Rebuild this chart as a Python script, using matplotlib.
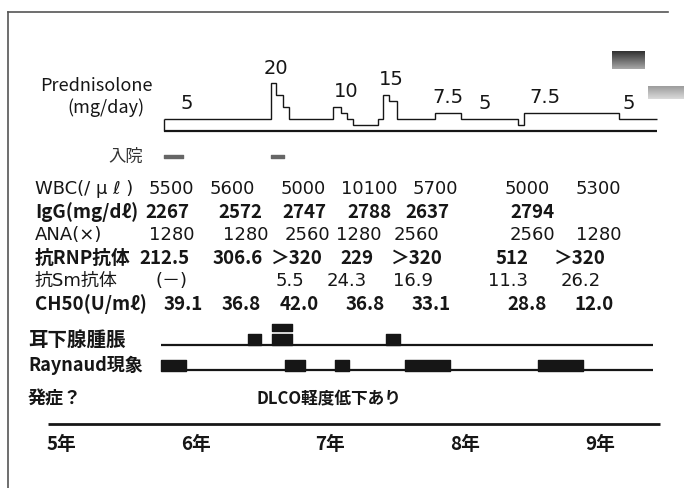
import numpy as np
import matplotlib
matplotlib.use('Agg')
import matplotlib.pyplot as plt
from matplotlib.lines import Line2D

plt.rcParams['font.family'] = ['DejaVu Sans', 'Noto Sans CJK JP']
NOTO = ['Noto Sans CJK JP', 'DejaVu Sans']

# prednisolone course (years, mg/day)
pred_t = [5.765, 6.557, 6.596, 6.646, 6.695, 7.022, 7.076, 7.121, 7.166, 7.356,
          7.393, 7.437, 7.492, 7.777, 7.967, 8.390, 8.437, 9.140, 9.422]
pred_dose = [5, 20, 15, 10, 5, 10, 7.5, 5, 2.5, 5, 15, 12.5, 5, 7.5, 5, 2.5, 7.5, 5]
dose_lbl_t = [5.935, 6.596, 7.116, 7.45, 7.873, 8.148, 8.593, 9.217]
dose_lbl_val = [5, 20, 10, 15, 7.5, 5, 7.5, 5]

# admissions (start, duration in years)
adm_start = [5.765, 6.559]
adm_dur = [0.141, 0.096]

# lab table
row_labels = ['WBC(/ μ ℓ )', 'IgG(mg/dℓ)', 'ANA(×)', '抗RNP抗体', '抗Sm抗体', 'CH50(U/mℓ)']
row_bold = [False, True, False, True, False, True]
wbc_t = [5.82, 6.27, 6.80, 7.29, 7.78, 8.46, 8.99]
wbc = ['5500', '5600', '5000', '10100', '5700', '5000', '5300']
igg_t = [5.79, 6.33, 6.81, 7.29, 7.72, 8.50]
igg = ['2267', '2572', '2747', '2788', '2637', '2794']
ana_t = [5.82, 6.37, 6.83, 7.21, 7.64, 8.50, 8.99]
ana = ['1280', '1280', '2560', '1280', '2560', '2560', '1280']
rnp_t = [5.77, 6.31, 6.75, 7.20, 7.64, 8.35, 8.85]
rnp = ['212.5', '306.6', '＞320', '229', '＞320', '512', '＞320']
sm_t = [5.82, 6.70, 7.12, 7.61, 8.32, 8.86]
sm = ['(－)', '5.5', '24.3', '16.9', '11.3', '26.2']
ch50_t = [5.91, 6.34, 6.77, 7.26, 7.75, 8.46, 8.96]
ch50 = ['39.1', '36.8', '42.0', '36.8', '33.1', '28.8', '12.0']

# symptoms
sym_span = (5.742, 9.395)
parotid_start = [6.388, 6.566, 6.566, 7.413]
parotid_dur = [0.097, 0.149, 0.149, 0.104]
parotid_tier = [1, 1, 2, 1]
raynaud_start = [5.742, 6.663, 7.034, 7.554, 8.541]
raynaud_dur = [0.186, 0.148, 0.104, 0.334, 0.334]

years = [5, 6, 7, 8, 9]
year_span = (4.903, 9.447)

W, H = 684, 489
ink = '#161616'
px_per_year = 134.7
x5 = 61
xlim = (5 - x5 / px_per_year, 5 + (W - x5) / px_per_year)

fig = plt.figure(figsize=(W / 100, H / 100), dpi=100)
ax = fig.add_axes([0, 0, 1, 1])
ax.set_xlim(xlim)
ax.set_ylim(H, 0)
ax.axis('off')
lab = ax.get_yaxis_transform()

# prednisolone panel, y in mg/day
ax_p = fig.add_axes([0, (H - 135) / H, 1, 65 / H])
ax_p.set_xlim(xlim)
ax_p.set_ylim((131.5 - 135) / 2.37, (131.5 - 70) / 2.37)
ax_p.axis('off')
ax_p.stairs(pred_dose, pred_t, baseline=None, color=ink, lw=1.0)
ax_p.vlines(pred_t[0], 0, pred_dose[0], color=ink, lw=1.0)
ax_p.hlines(0, pred_t[0], pred_t[-1], color=ink, lw=1.6)
for t, v in zip(dose_lbl_t, dose_lbl_val):
    ax_p.annotate(f'{v:g}', (t, v), xytext=(0, 11.5), textcoords='offset points',
                  ha='center', va='center', fontsize=14, color=ink)

fig.text(96 / W, 1 - 86 / H, 'Prednisolone', ha='center', va='center',
         fontsize=13, color=ink, family=NOTO)
fig.text(106 / W, 1 - 108 / H, '(mg/day)', ha='center', va='center',
         fontsize=13, color=ink, family=NOTO)

# admissions
ax.text(143 / W, 157, '入院', transform=lab, ha='right', va='center',
        fontsize=12.5, color='#333', family=NOTO)
ax.broken_barh(list(zip(adm_start, adm_dur)), (155.5, 3), color='#666')

# lab table
rows = [(wbc_t, wbc), (igg_t, igg), (ana_t, ana), (rnp_t, rnp), (sm_t, sm), (ch50_t, ch50)]
for i, ((ts, vals), name, bold) in enumerate(zip(rows, row_labels, row_bold)):
    y = 189 + i * 23
    if bold:
        style = dict(fontsize=13.5, fontweight='bold', family=NOTO)
    else:
        style = dict(fontsize=13, fontweight='normal')
    ax.text(35 / W, y, name, transform=lab, ha='left', va='center', color=ink, **style)
    for t, s in zip(ts, vals):
        ax.text(t, y, s, ha='center', va='center', color=ink, **style)

# symptoms
ax.text(28 / W, 340, '耳下腺腫脹', transform=lab, ha='left', va='center',
        fontsize=14, fontweight='bold', color=ink, family=NOTO)
ax.hlines(346, *sym_span, color=ink, lw=1.6)
for s, d, tier in zip(parotid_start, parotid_dur, parotid_tier):
    if tier == 1:
        ax.broken_barh([(s, d)], (335, 11), color=ink)
    else:
        ax.broken_barh([(s, d)], (324.5, 7), color=ink)

ax.text(28 / W, 365, 'Raynaud現象', transform=lab, ha='left', va='center',
        fontsize=13, fontweight='bold', color=ink, family=NOTO)
ax.hlines(370.5, *sym_span, color=ink, lw=1.6)
ax.broken_barh(list(zip(raynaud_start, raynaud_dur)), (361, 10.5), color=ink)

ax.text(28 / W, 399, '発症？', transform=lab, ha='left', va='center',
        fontsize=13, fontweight='bold', color=ink, family=NOTO)
ax.text(6.99, 399, 'DLCO軽度低下あり', ha='center', va='center',
        fontsize=12, fontweight='bold', color=ink, family=NOTO)

# time axis
ax.hlines(424.5, *year_span, color=ink, lw=2.0)
for yr in years:
    ax.text(yr, 444, f'{yr}年', ha='center', va='center', fontsize=13.5,
            fontweight='bold', color=ink, family=NOTO)

# scan frame and smudges
fig.add_artist(Line2D([8 / W, 668 / W], [1 - 13 / H] * 2, transform=fig.transFigure,
                      color='#555', lw=1.2))
fig.add_artist(Line2D([8 / W, 8 / W], [1 - 13 / H, 0], transform=fig.transFigure,
                      color='#555', lw=1.2))
g = np.linspace(0.2, 0.65, 18)[:, None, None] * np.ones((18, 33, 3))
fig.figimage(g, xo=612, yo=H - 70, origin='upper')
g2 = np.linspace(0.62, 0.85, 13)[:, None, None] * np.ones((13, 36, 3))
fig.figimage(g2, xo=648, yo=H - 100, origin='upper')

fig.savefig('out.png', dpi=100)
